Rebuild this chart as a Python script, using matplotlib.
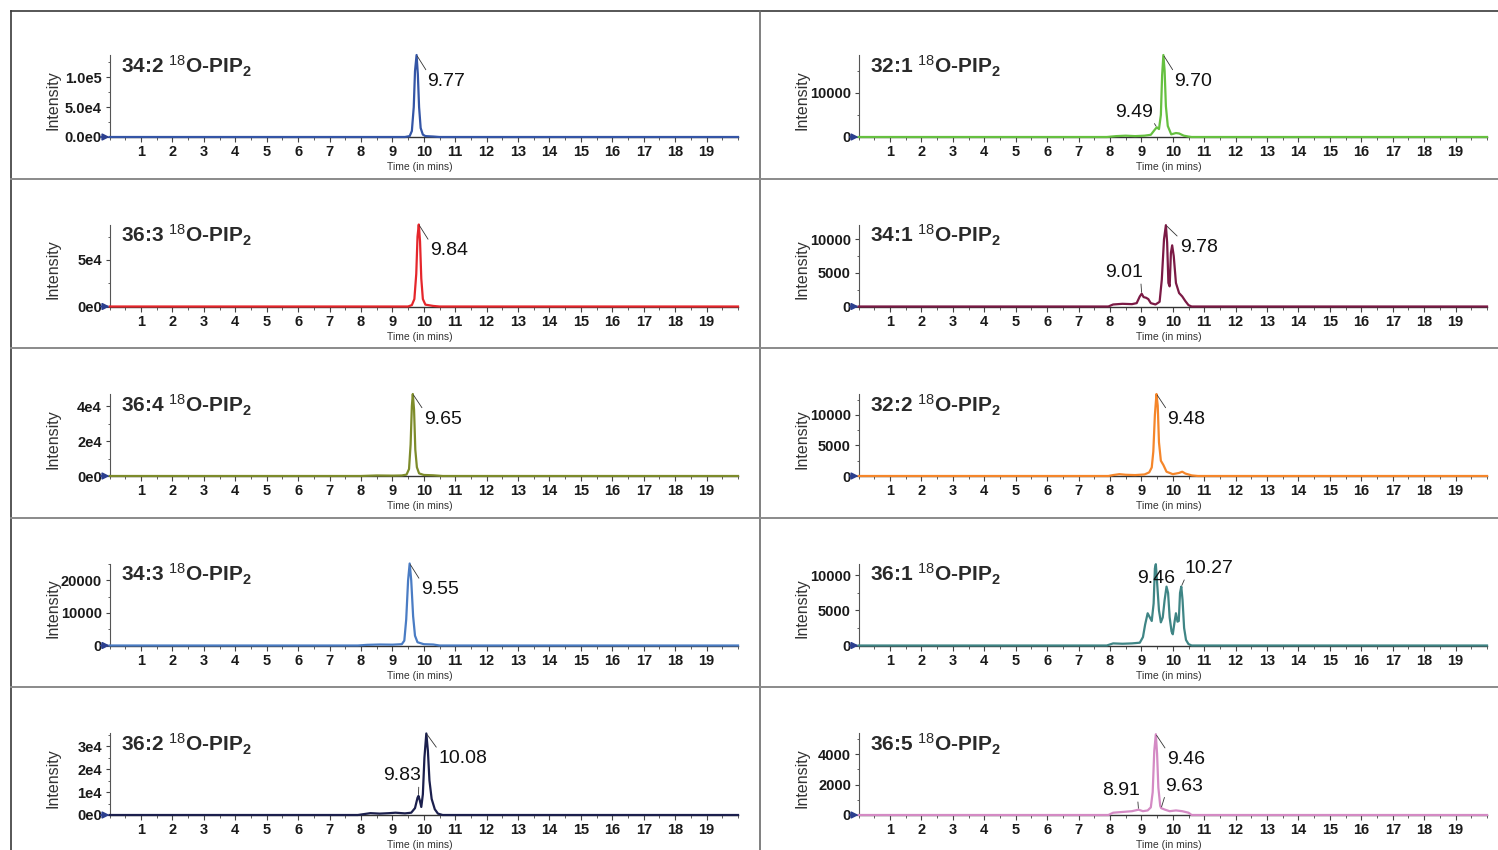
import matplotlib
matplotlib.use("Agg")
import matplotlib.pyplot as plt
from matplotlib.lines import Line2D
from matplotlib.ticker import FixedLocator, MultipleLocator

plt.rcParams['font.family'] = ['Liberation Sans', 'DejaVu Sans']
plt.rcParams['mathtext.fontset'] = 'custom'
plt.rcParams['mathtext.rm'] = 'Liberation Sans'
plt.rcParams['mathtext.bf'] = 'Liberation Sans:bold'
plt.rcParams['mathtext.it'] = 'Liberation Sans:italic'

# ---------------- data ----------------
names = ["34:2", "36:3", "36:4", "34:3", "36:2", "32:1", "34:1", "32:2", "36:1", "36:5"]

t_34_2 = [0, 9.4, 9.55, 9.62, 9.68, 9.72, 9.77, 9.81, 9.85, 9.9, 9.97, 10.05, 10.3, 10.5, 20]
i_34_2 = [0, 0, 1500, 10000, 50000, 110000, 137000, 105000, 50000, 15000, 4000, 1500, 800, 0, 0]

t_36_3 = [0, 9.5, 9.62, 9.7, 9.76, 9.8, 9.84, 9.88, 9.92, 9.97, 10.05, 10.3, 10.5, 20]
i_36_3 = [0, 0, 1500, 8000, 35000, 75000, 88000, 70000, 30000, 8000, 2000, 600, 0, 0]

t_36_4 = [0, 8.0, 8.5, 9.0, 9.3, 9.45, 9.53, 9.58, 9.62, 9.65, 9.69, 9.73, 9.78, 9.85, 10.0, 10.3, 10.6, 20]
i_36_4 = [0, 0, 300, 200, 300, 800, 4000, 18000, 40000, 47000, 38000, 15000, 5000, 1500, 600, 400, 0, 0]

t_34_3 = [0, 7.9, 8.2, 8.6, 9.0, 9.3, 9.38, 9.44, 9.5, 9.55, 9.6, 9.66, 9.72, 9.8, 10.0, 10.3, 10.5, 20]
i_34_3 = [0, 0, 200, 300, 250, 400, 1500, 8000, 20000, 25200, 20000, 9000, 3000, 1000, 400, 300, 0, 0]

t_36_2 = [0, 7.9, 8.1, 8.3, 8.6, 8.9, 9.1, 9.4, 9.6, 9.72, 9.8, 9.83, 9.87, 9.92, 9.97,
          10.02, 10.08, 10.13, 10.18, 10.25, 10.35, 10.45, 10.6, 20]
i_36_2 = [0, 0, 400, 800, 600, 800, 1000, 700, 1000, 3000, 7500, 8300, 6500, 3500, 9000,
          25000, 35500, 28000, 15000, 7000, 2500, 600, 0, 0]

t_32_1 = [0, 7.9, 8.2, 8.5, 8.8, 9.1, 9.3, 9.42, 9.49, 9.56, 9.62, 9.66, 9.70, 9.74, 9.78,
          9.84, 9.95, 10.1, 10.2, 10.35, 10.5, 10.6, 20]
i_32_1 = [0, 0, 200, 300, 200, 300, 500, 1600, 2200, 1800, 5000, 14000, 18600, 15000, 7000,
          2500, 600, 900, 800, 300, 100, 0, 0]

t_34_1 = [0, 7.95, 8.1, 8.4, 8.7, 8.85, 8.95, 9.01, 9.07, 9.15, 9.22, 9.3, 9.45, 9.58, 9.65,
          9.72, 9.78, 9.82, 9.86, 9.9, 9.94, 9.98, 10.03, 10.1, 10.2, 10.3, 10.4, 10.5, 10.6, 20]
i_34_1 = [0, 0, 300, 400, 350, 500, 1500, 1900, 1400, 1300, 1100, 500, 300, 700, 4000,
          10000, 12100, 9500, 3500, 3000, 8000, 9100, 7500, 3500, 2000, 1500, 800, 200, 0, 0]

t_32_2 = [0, 7.95, 8.1, 8.3, 8.5, 8.8, 9.1, 9.25, 9.33, 9.38, 9.43, 9.48, 9.52, 9.56, 9.62,
          9.7, 9.8, 10.0, 10.2, 10.3, 10.4, 10.6, 10.8, 20]
i_32_2 = [0, 0, 150, 300, 200, 150, 250, 600, 1400, 4000, 10000, 13400, 11500, 5500, 2500,
          1800, 700, 300, 500, 700, 400, 100, 0, 0]

t_36_1 = [0, 7.9, 8.1, 8.4, 8.7, 8.95, 9.05, 9.12, 9.2, 9.27, 9.33, 9.39, 9.43, 9.46, 9.5,
          9.56, 9.62, 9.68, 9.74, 9.8, 9.85, 9.9, 9.96, 10.0, 10.06, 10.1, 10.15, 10.19, 10.23,
          10.27, 10.31, 10.36, 10.42, 10.5, 10.6, 20]
i_36_1 = [0, 0, 300, 250, 300, 400, 1200, 3000, 4600, 4000, 3500, 6000, 11000, 11600, 9000,
          5000, 3300, 4000, 6500, 8400, 7500, 4000, 2000, 1600, 3500, 4600, 3400, 3500, 7500,
          8400, 6500, 2500, 800, 200, 0, 0]

t_36_5 = [0, 7.95, 8.1, 8.4, 8.7, 8.91, 9.05, 9.2, 9.3, 9.36, 9.41, 9.46, 9.5, 9.54, 9.6,
          9.63, 9.75, 9.9, 10.1, 10.3, 10.5, 10.6, 20]
i_36_5 = [0, 0, 150, 200, 250, 350, 250, 300, 500, 1500, 4200, 5300, 4000, 1800, 600,
          450, 350, 250, 300, 250, 150, 0, 0]

times = [t_34_2, t_36_3, t_36_4, t_34_3, t_36_2, t_32_1, t_34_1, t_32_2, t_36_1, t_36_5]
intens = [i_34_2, i_36_3, i_36_4, i_34_3, i_36_2, i_32_1, i_34_1, i_32_2, i_36_1, i_36_5]

y_max = [137000, 88000, 47000, 25200, 35700, 18600, 12200, 13400, 11700, 5380]

ytick_vals = [[0, 50000, 100000], [0, 50000], [0, 20000, 40000], [0, 10000, 20000],
              [0, 10000, 20000, 30000], [0, 10000], [0, 5000, 10000], [0, 5000, 10000],
              [0, 5000, 10000], [0, 2000, 4000]]
ytick_labels = [["0.0e0", "5.0e4", "1.0e5"], ["0e0", "5e4"], ["0e0", "2e4", "4e4"],
                ["0", "10000", "20000"], ["0e0", "1e4", "2e4", "3e4"], ["0", "10000"],
                ["0", "5000", "10000"], ["0", "5000", "10000"], ["0", "5000", "10000"],
                ["0", "2000", "4000"]]

# peak labels: (panel index, label text, retention time, intensity)
peak_panel = [0, 1, 2, 3, 4, 4, 5, 5, 6, 6, 7, 8, 8, 9, 9, 9]
peak_text = ["9.77", "9.84", "9.65", "9.55", "10.08", "9.83", "9.70", "9.49", "9.78", "9.01",
             "9.48", "9.46", "10.27", "9.46", "8.91", "9.63"]
peak_rt = [9.77, 9.84, 9.65, 9.55, 10.08, 9.83, 9.70, 9.49, 9.78, 9.01,
           9.48, 9.46, 10.27, 9.46, 8.91, 9.63]
peak_int = [137000, 88000, 47000, 25200, 35500, 8300, 18600, 2200, 12100, 1900,
            13400, 11600, 8400, 5300, 350, 450]

xticks = list(range(1, 20))

# ---------------- styles / layout ----------------
colors = ['#3455a6', '#e5262b', '#7d8b2a', '#4a7cc4', '#1b1f4d',
          '#66c040', '#7b1a45', '#f5862a', '#3f8585', '#d48ac4']

# label layout: (dx px, dy px, ha, leader?, relpos)
label_style = [
    (11, -26, 'left', True, (0.0, 1.0)),
    (11, -26, 'left', True, (0.0, 1.0)),
    (11, -25, 'left', True, (0.0, 1.0)),
    (11, -26, 'left', True, (0.0, 1.0)),
    (12, -25, 'left', True, (0.0, 1.0)),
    (3, 20, 'right', True, (0.93, 0.0)),
    (11, -26, 'left', True, (0.0, 1.0)),
    (-4, 15, 'right', True, (0.97, 0.1)),
    (14, -22, 'left', True, (0.0, 1.0)),
    (1, 21, 'right', True, (0.95, 0.0)),
    (11, -25, 'left', True, (0.0, 1.0)),
    (0, -14, 'center', False, (0.5, 0.5)),
    (3.5, 18, 'left', True, (0.03, 0.1)),
    (11, -25, 'left', True, (0.0, 1.0)),
    (1, 19, 'right', True, (0.95, 0.0)),
    (3.5, 22, 'left', True, (0.03, 0.1)),
]

W, H = 1498, 850
fig = plt.figure(figsize=(W / 100, H / 100), dpi=100)

ax_h = 82
col_left = [109.6, 858.6]
ax_w = 628.4
baselines = [137 + 169.5 * r for r in range(5)]

axes = []
for k in range(10):
    col = k // 5
    row = k % 5
    left = col_left[col] / W
    bottom = 1 - baselines[row] / H
    ax = fig.add_axes([left, bottom, ax_w / W, ax_h / H])
    axes.append(ax)

    ax.plot(times[k], intens[k], color=colors[k], lw=1.6, solid_joinstyle='round',
            clip_on=False, zorder=3)
    ax.set_xlim(0, 20)
    ax.set_ylim(0, y_max[k])

    for s in ['top', 'right']:
        ax.spines[s].set_visible(False)
    ax.spines['left'].set_color('#555555')
    ax.spines['left'].set_linewidth(0.8)
    ax.spines['bottom'].set_color('#333333')
    ax.spines['bottom'].set_linewidth(1.0)

    ax.xaxis.set_major_locator(FixedLocator(xticks))
    ax.set_xticklabels([str(v) for v in xticks], fontsize=10.5, fontweight='bold',
                       color='#1a1a1a')
    ax.xaxis.set_minor_locator(MultipleLocator(0.5))
    ax.tick_params(axis='x', which='major', length=3.5, width=0.8, pad=2.5, color='#444444')
    ax.tick_params(axis='x', which='minor', length=2, width=0.6, color='#444444')

    yv = ytick_vals[k]
    ax.yaxis.set_major_locator(FixedLocator(yv))
    ax.set_yticklabels(ytick_labels[k], fontsize=10.5, fontweight='bold', color='#1a1a1a')
    step = yv[1] - yv[0]
    ax.yaxis.set_minor_locator(MultipleLocator(step / 2))
    ax.tick_params(axis='y', which='major', length=3, width=0.8, pad=2.5, color='#444444')
    ax.tick_params(axis='y', which='minor', length=1.8, width=0.6, color='#444444')

    ax.set_ylabel('Intensity', fontsize=11.5, color='#333333')
    ax.yaxis.set_label_coords(-0.0775, 0.45)
    ax.set_xlabel('Time (in mins)', fontsize=7.5, color='#333333')
    ax.xaxis.set_label_coords(0.494, -0.31)

    # small arrow at origin
    ax.annotate('', xy=(0, 0), xycoords='data', xytext=(-9, 0), textcoords='offset pixels',
                arrowprops=dict(arrowstyle='-|>', color='#2b3f8f', lw=1.2,
                                mutation_scale=10, shrinkA=0, shrinkB=0),
                annotation_clip=False, zorder=5)

    # title
    title = names[k] + r' $\mathrm{^{18}}$O-PIP$\mathbf{_{2}}$'
    ax.annotate(title, xy=(0, 1), xycoords='axes fraction', xytext=(11.4, -18.3),
                textcoords='offset pixels', ha='left', va='baseline',
                fontsize=15, fontweight='bold', color='#2a2a2a')

# peak labels
for j in range(len(peak_text)):
    ax = axes[peak_panel[j]]
    dx, dy, ha, leader, rp = label_style[j]
    ap = None
    if leader:
        ap = dict(arrowstyle='-', lw=0.6, color='#333333', shrinkA=0, shrinkB=1,
                  relpos=rp)
    ax.annotate(peak_text[j], xy=(peak_rt[j], peak_int[j]), xycoords='data',
                xytext=(dx, dy), textcoords='offset pixels', ha=ha, va='center',
                fontsize=14, color='#111111', arrowprops=ap,
                annotation_clip=False, zorder=6)

# panel frame lines
def fline(x0, y0, x1, y1, color, lw):
    fig.add_artist(Line2D([x0 / W, x1 / W], [1 - y0 / H, 1 - y1 / H],
                          transform=fig.transFigure, color=color, lw=lw))

fline(11, 11, W, 11, '#3a3a3a', 1.2)
fline(11, 11, 11, H, '#3a3a3a', 1.2)
fline(760, 11, 760, H, '#6a6a6a', 1.2)
for yy in [179, 348, 518, 687]:
    fline(11, yy, W, yy, '#8a8a8a', 1.4)

fig.savefig('out.png', dpi=100)
